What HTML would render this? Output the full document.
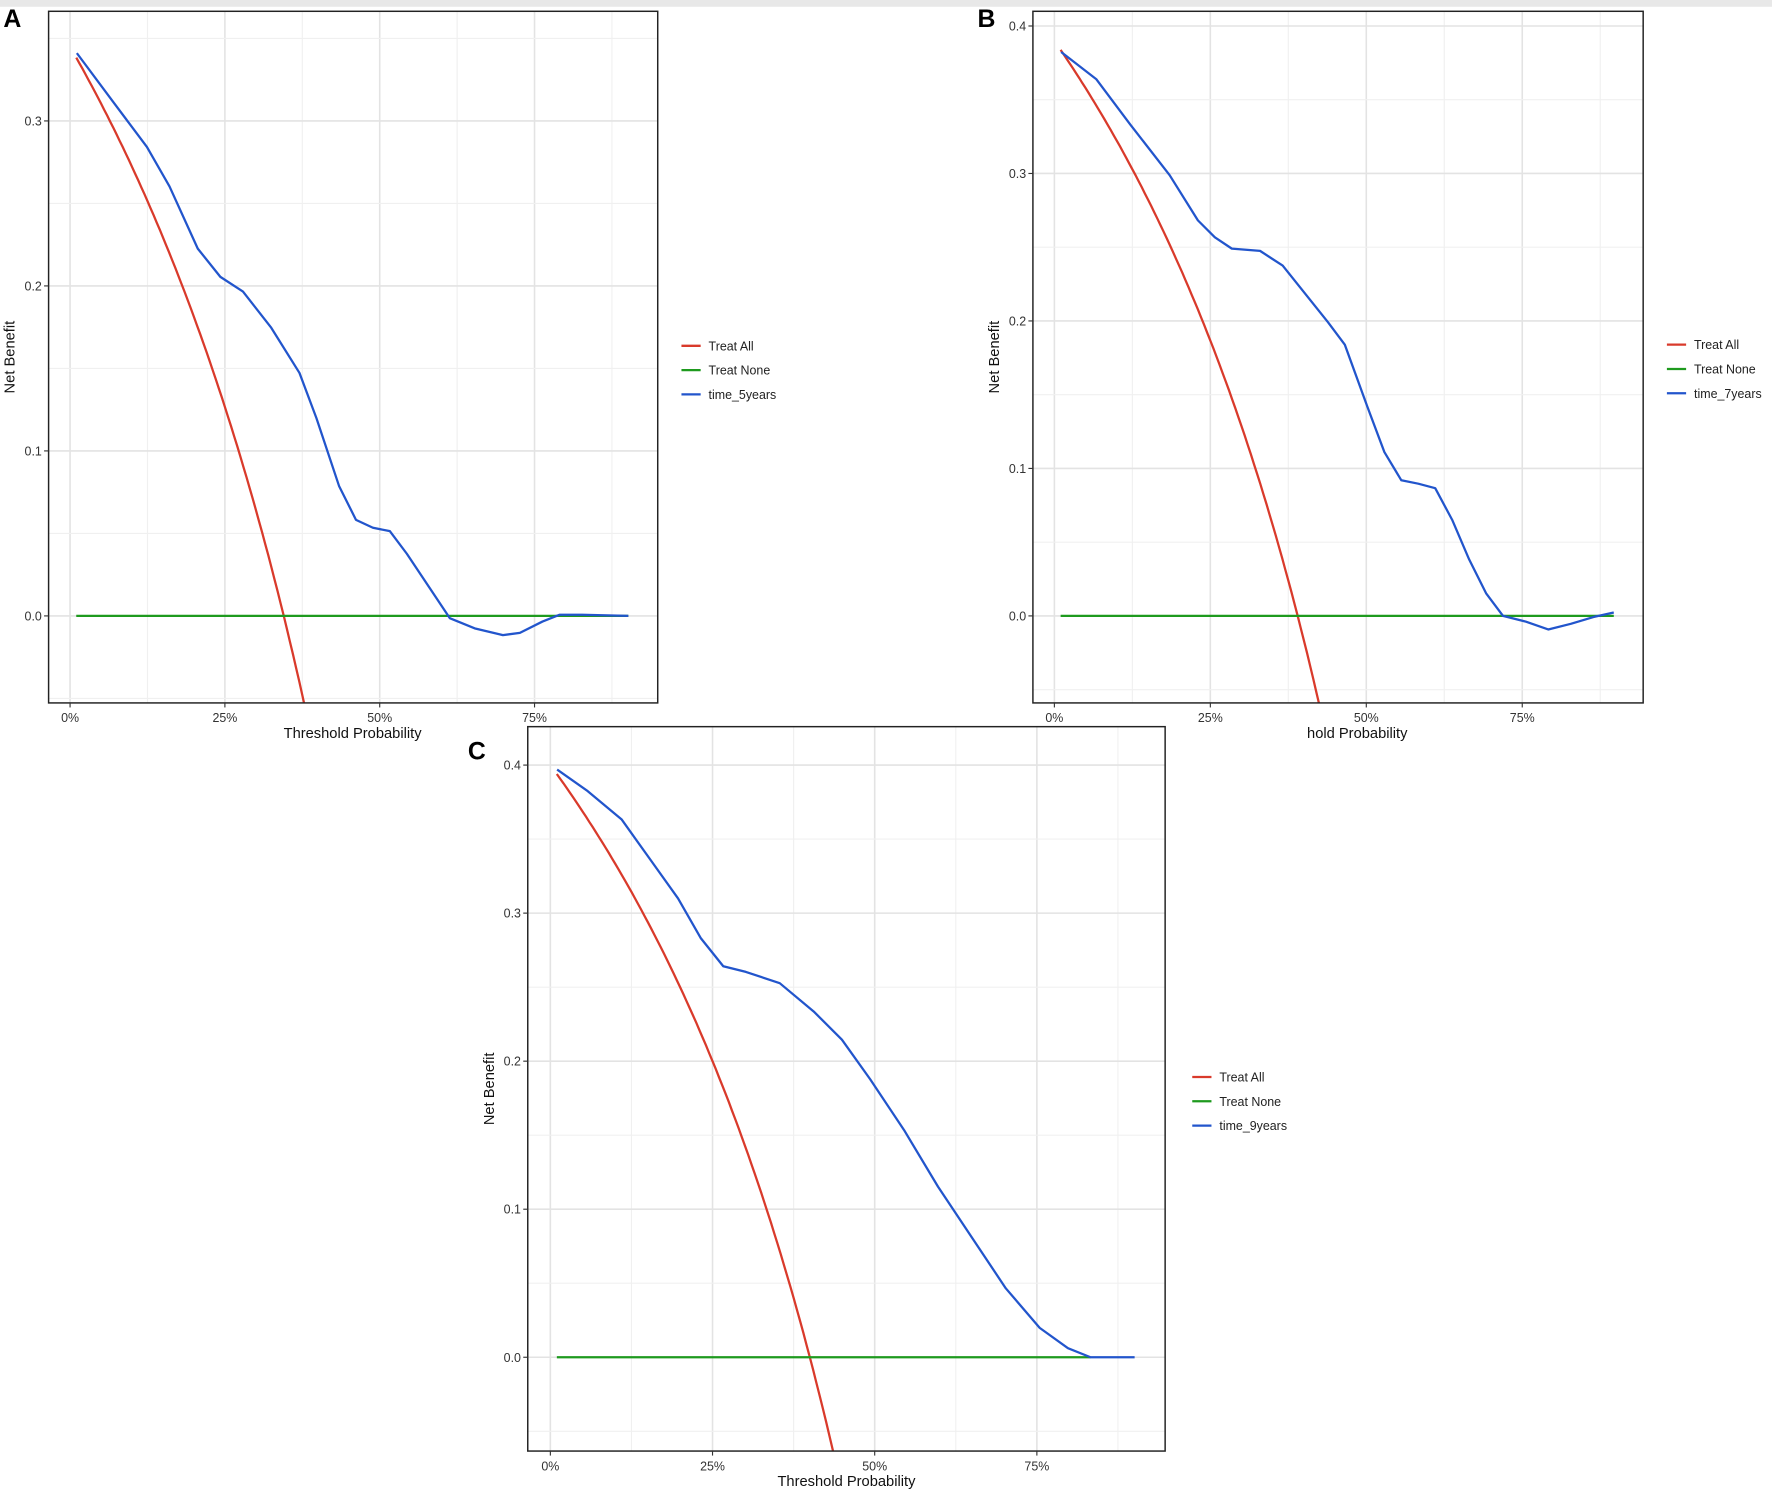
<!DOCTYPE html>
<html><head><meta charset="utf-8"><style>
html,body{margin:0;padding:0;background:#fff;width:1772px;height:1494px;overflow:hidden;position:relative;}
svg{display:block;position:absolute;left:0;top:0;}
text{font-family:"Liberation Sans",sans-serif;}
script{display:none;}
</style></head><body>
<svg id="s" width="1772" height="1494" viewBox="0 0 1568 1322" preserveAspectRatio="none" xmlns="http://www.w3.org/2000/svg" overflow="hidden">
<rect x="0" y="0" width="1568" height="6" fill="#e8e8e8"/>
<defs>
<clipPath id="cA"><rect x="43" y="10" width="539" height="612"/></clipPath>
<clipPath id="cB"><rect x="914" y="10" width="540" height="612"/></clipPath>
<clipPath id="cC"><rect x="467" y="643" width="564" height="641"/></clipPath>
</defs>
<g id="g"></g>
<text x="3" y="24" font-size="22" font-weight="bold">A</text>
<text x="865" y="24" font-size="22" font-weight="bold">B</text>
<text x="414" y="672" font-size="22" font-weight="bold">C</text>
</svg>
<script>
var g=document.getElementById('g'),h='';
function panel(o){
 var x0=o.x0,x1=o.x1,y0=o.y0,y1=o.y1;
 var X=function(p){return o.px0+p*o.pxs;},Y=function(v){return o.py0-v*o.pys;};
 h+='<g clip-path="url(#'+o.clip+')">';
 for(var p=0;p<=1.0001;p+=0.125){var xx=X(p);h+='<line x1="'+xx+'" y1="'+y0+'" x2="'+xx+'" y2="'+y1+'" stroke="'+(Math.round(p*8)%2?'#f0f0f0':'#e3e3e3')+'" stroke-width="'+(Math.round(p*8)%2?1:1.4)+'"/>';}
 for(var v=-0.1;v<=0.45;v+=0.05){var yy=Y(v);var maj=Math.abs(Math.round(v*20))%2==0;h+='<line x1="'+x0+'" y1="'+yy+'" x2="'+x1+'" y2="'+yy+'" stroke="'+(maj?'#e3e3e3':'#f0f0f0')+'" stroke-width="'+(maj?1.4:1)+'"/>';}
 var d='';for(var pt=0.01;pt<=0.6;pt+=0.005){var nb=o.prev-(1-o.prev)*pt/(1-pt);d+=(d?'L':'M')+X(pt).toFixed(1)+','+Y(nb).toFixed(1);}
 h+='<path d="'+d+'" fill="none" stroke="#d93a2b" stroke-width="2"/>';
 h+='<line x1="'+X(0.01)+'" y1="'+Y(0)+'" x2="'+o.gEnd+'" y2="'+Y(0)+'" stroke="#1e9a1e" stroke-width="2"/>';
 h+='<polyline points="'+o.blue+'" fill="none" stroke="#2255cc" stroke-width="2" stroke-linejoin="round"/>';
 h+='</g><rect x="'+x0+'" y="'+y0+'" width="'+(x1-x0)+'" height="'+(y1-y0)+'" fill="none" stroke="#222" stroke-width="1.3"/>';
 o.yt.forEach(function(v){var yy=Y(v);h+='<line x1="'+(x0-4)+'" y1="'+yy+'" x2="'+x0+'" y2="'+yy+'" stroke="#333"/><text x="'+(x0-6)+'" y="'+(yy+4)+'" font-size="11" text-anchor="end" fill="#333">'+v.toFixed(1)+'</text>';});
 ['0%','25%','50%','75%'].forEach(function(t,i){var xx=X(i*0.25);h+='<line x1="'+xx+'" y1="'+y1+'" x2="'+xx+'" y2="'+(y1+4)+'" stroke="#333"/><text x="'+xx+'" y="'+(y1+17)+'" font-size="11" text-anchor="middle" fill="#333">'+t+'</text>';});
 h+='<text x="'+o.xtx+'" y="'+(y1+31)+'" font-size="13" text-anchor="middle" fill="#111">'+o.xt+'</text>';
 var cy=(y0+y1)/2;h+='<text transform="translate('+(x0-30)+','+cy+') rotate(-90)" font-size="13" text-anchor="middle" fill="#111">Net Benefit</text>';
 var L=[['Treat All','#d93a2b'],['Treat None','#1e9a1e'],[o.name,'#2255cc']];
 L.forEach(function(l,i){var ly=o.ly+i*21.5;h+='<line x1="'+o.lx+'" y1="'+ly+'" x2="'+(o.lx+17)+'" y2="'+ly+'" stroke="'+l[1]+'" stroke-width="2"/><text x="'+(o.lx+24)+'" y="'+(ly+4)+'" font-size="11" fill="#222">'+l[0]+'</text>';});
}
panel({clip:'cA',x0:43,x1:582,y0:10,y1:622,px0:62,pxs:548,py0:545,pys:1460,prev:0.345,gEnd:556,yt:[0,0.1,0.2,0.3],xt:'Threshold Probability',xtx:312,lx:603,ly:306,name:'time_5years',
 blue:'68,47 100,90 130,130 150,165 175,220 195,245 215,258 240,290 265,330 280,370 300,430 315,460 330,467 345,470 360,490 380,520 398,547 420,556 445,562 460,560 480,550 495,544 515,544 556,545'});
panel({clip:'cB',x0:914,x1:1454,y0:10,y1:622,px0:933,pxs:552,py0:545,pys:1305,prev:0.39,gEnd:1428,yt:[0,0.1,0.2,0.3,0.4],xt:'hold Probability',xtx:1201,lx:1475,ly:305,name:'time_7years',
 blue:'939,46 970,70 1000,110 1035,155 1060,195 1075,210 1090,220 1115,222 1135,235 1155,260 1175,285 1190,305 1210,360 1225,400 1240,425 1255,428 1270,432 1285,460 1300,495 1315,525 1330,545 1350,550 1370,557 1390,552 1410,546 1428,542'});
panel({clip:'cC',x0:467,x1:1031,y0:643,y1:1284,px0:487,pxs:574,py0:1201,pys:1310,prev:0.40,gEnd:965,yt:[0,0.1,0.2,0.3,0.4],xt:'Threshold Probability',xtx:749,lx:1055,ly:953,name:'time_9years',
 blue:'493,681 520,700 550,725 575,760 600,795 620,830 640,855 660,860 690,870 720,895 745,920 770,955 800,1000 830,1050 860,1095 890,1140 920,1175 945,1193 965,1201 1004,1201'});
g.innerHTML=h;
</script>
</body></html>
